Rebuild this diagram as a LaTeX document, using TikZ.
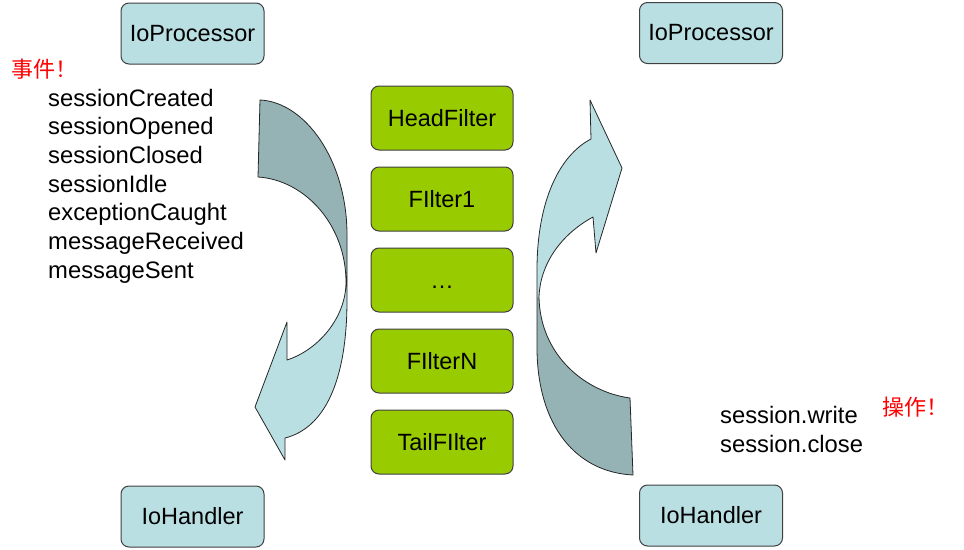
\documentclass[tikz,border=0pt]{standalone}
\usepackage{fontspec}
\setmainfont{Liberation Sans}
\newfontfamily\cjk{Noto Sans CJK SC}
\definecolor{boxblue}{RGB}{185,223,227}
\definecolor{arrowdark}{RGB}{149,179,181}
\definecolor{filtergreen}{RGB}{153,204,0}
\tikzset{
  endbox/.style={draw=black!75, line width=1pt, fill=boxblue, rounded corners=8,
    minimum width=143, minimum height=61, inner sep=0, font=\fontsize{23.5}{28}\selectfont},
  filterbox/.style={draw=black!75, line width=1pt, fill=filtergreen, rounded corners=8,
    minimum width=142, minimum height=64, inner sep=0, text height=17pt, text depth=0pt,
    font=\fontsize{23.5}{28}\selectfont},
  listtext/.style={anchor=base west, inner sep=0, font=\fontsize{23.8}{28}\selectfont},
  remark/.style={text=red, inner sep=0, font=\cjk\fontsize{22}{24}\selectfont},
  bentarrow/.style={draw=black!85, line width=0.8pt, line join=round}
}

\begin{document}
\begin{tikzpicture}[x=1pt,y=-1pt]
\useasboundingbox (0,0) rectangle (964,549);
%
\node[endbox] (procL) at (192.5,33.5) {IoProcessor};
\node[endbox] (procR) at (711,33) {IoProcessor};
\node[endbox] (handL) at (192.5,516.5) {IoHandler};
\node[endbox] (handR) at (711,515.5) {IoHandler};
%
\foreach \name [count=\i] in {HeadFilter,FIlter1,{\ldots},FIlterN,TailFIlter}
  \node[filterbox] (f\i) at (442,{118+81*(\i-1)}) {\name};
%
% left bent arrow (events go down)
\fill[boxblue] (260,100) .. controls (305,102) and (347,160) .. (347,235) -- (347,300)
  .. controls (347,380) and (325,428) .. (285,438) -- (285,460) -- (255,407) -- (287,322)
  -- (287,360) .. controls (318,350) and (346,318) .. (346,282)
  .. controls (346,225) and (305,180) .. (258,177) -- cycle;
\fill[arrowdark] (260,100) .. controls (305,102) and (347,160) .. (347,235) -- (347,282)
  -- (346,282) .. controls (346,225) and (305,180) .. (258,177) -- cycle;
\draw[bentarrow] (260,100) .. controls (305,102) and (347,160) .. (347,235) -- (347,300)
  .. controls (347,380) and (325,428) .. (285,438) -- (285,460) -- (255,407) -- (287,322)
  -- (287,360) .. controls (318,350) and (346,318) .. (346,282)
  .. controls (346,225) and (305,180) .. (258,177) -- cycle;
%
% right bent arrow (operations go up)
\fill[boxblue] (633,475) .. controls (575,472) and (538,425) .. (537,350) -- (537,270)
  .. controls (537,200) and (560,155) .. (591,139) -- (590,100) -- (622,168) -- (596,253)
  -- (593,217) .. controls (560,235) and (540,265) .. (539,297)
  .. controls (540,355) and (585,392) .. (630,398) -- cycle;
\fill[arrowdark] (633,475) .. controls (575,472) and (538,425) .. (537,350) -- (537,297)
  -- (539,297) .. controls (540,355) and (585,392) .. (630,398) -- cycle;
\draw[bentarrow] (633,475) .. controls (575,472) and (538,425) .. (537,350) -- (537,270)
  .. controls (537,200) and (560,155) .. (591,139) -- (590,100) -- (622,168) -- (596,253)
  -- (593,217) .. controls (560,235) and (540,265) .. (539,297)
  .. controls (540,355) and (585,392) .. (630,398) -- cycle;
%
\node[remark, anchor=west] (evmark) at (11,69) {事件！};
\foreach \ev [count=\i] in {sessionCreated,sessionOpened,sessionClosed,sessionIdle,
    exceptionCaught,messageReceived,messageSent}
  \node[listtext] (ev\i) at (48,{106+28.67*(\i-1)}) {\ev};
%
\node[remark, anchor=west] (opmark) at (882,407) {操作！};
\node[listtext] (op1) at (720,423) {session.write};
\node[listtext] (op2) at (720,452) {session.close};
\end{tikzpicture}
\end{document}
